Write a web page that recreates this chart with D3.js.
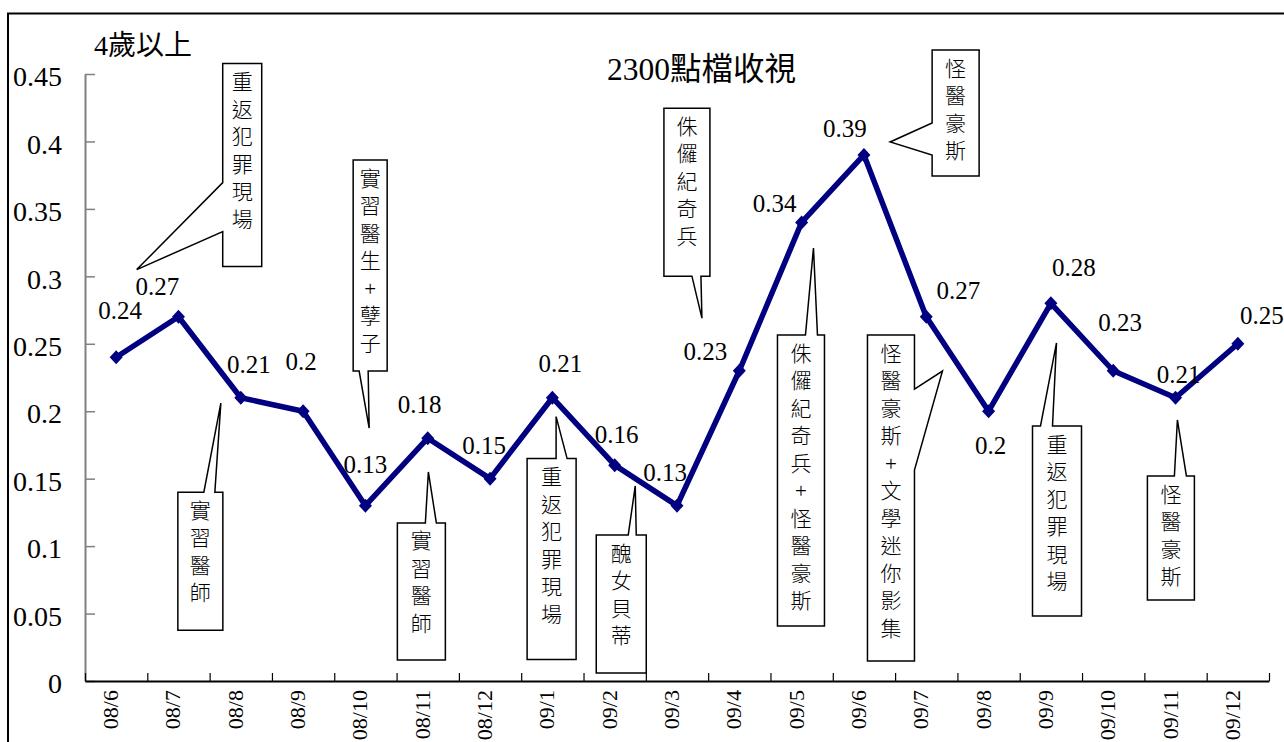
<!DOCTYPE html>
<html>
<head>
<meta charset="utf-8">
<script src="https://cdn.jsdelivr.net/npm/d3@7"></script>
<style>
  body { margin: 0; background: #fff; }
  svg { display: block; }
  .num { font-family: "Liberation Serif", "Times New Roman", serif; fill: #000; }
  .cjk { font-family: "Liberation Serif", "Noto Sans CJK TC", sans-serif; fill: #000; }
</style>
</head>
<body>
<svg id="chart" width="1284" height="742"></svg>
<script>
// data
const categories = ["08/6", "08/7", "08/8", "08/9", "08/10", "08/11", "08/12", "09/1", "09/2",
  "09/3", "09/4", "09/5", "09/6", "09/7", "09/8", "09/9", "09/10", "09/11", "09/12"];
const ratings = [0.24, 0.27, 0.21, 0.2, 0.13, 0.18, 0.15, 0.21, 0.16, 0.13,
  0.23, 0.34, 0.39, 0.27, 0.2, 0.28, 0.23, 0.21, 0.25];
const yTicks = [0, 0.05, 0.1, 0.15, 0.2, 0.25, 0.3, 0.35, 0.4, 0.45];
const calloutTexts = ["重返犯罪現場", "實習醫生+孽子", "實習醫師", "實習醫師", "重返犯罪現場",
  "醜女貝蒂", "侏儸紀奇兵", "怪醫豪斯", "侏儸紀奇兵+怪醫豪斯", "怪醫豪斯+文學迷你影集",
  "重返犯罪現場", "怪醫豪斯"];

// layout of the value labels, [dx, dy] from each point
const labelOffsets = [[4, -38], [-21, -22], [8, -25], [-2, -41], [0, -33], [-8, -25], [-6, -25],
  [8, -26], [2, -22], [-12, -25], [-34, -11], [-27, -10], [-19, -18], [32, -18], [2, 43],
  [23, -27], [7, -40], [3, -15], [24, -20]];

// callout layout: tip in (category index, value), box offset from tip, pointer base
const calloutLayout = [
  { tip: [0.83, 0.305], box: [86, -206, 39, 203], side: "left", base: [119, 168] },
  { tip: [4.56, 0.1875], box: [-16, -268, 34, 211], side: "bottom", base: [6, 15] },
  { tip: [2.18, 0.206], box: [-43, 89, 45, 138], side: "top", base: [26, 37] },
  { tip: [5.51, 0.155], box: [-31, 51, 48, 137], side: "top", base: [28, 39] },
  { tip: [7.56, 0.196], box: [-29, 42, 49, 201], side: "top", base: [29, 40] },
  { tip: [8.83, 0.1446], box: [-39, 49, 50, 138], side: "top", base: [32, 40] },
  { tip: [9.9, 0.269], box: [-38, -210, 46, 168], side: "bottom", base: [28, 37] },
  { tip: [12.92, 0.3996], box: [42, -92, 47, 126], side: "left", base: [73, 105] },
  { tip: [11.69, 0.321], box: [-36, 87, 47, 291], side: "top", base: [28, 40] },
  { tip: [13.76, 0.2298], box: [-75, -36, 47, 326], side: "right", base: [54, 135] },
  { tip: [15.59, 0.2506], box: [-24, 83, 49, 190], side: "top", base: [8, 20] },
  { tip: [17.53, 0.1935], box: [-30, 56, 47, 124], side: "top", base: [27, 39] }
];

const svg = d3.select("#chart");

const x = d3.scaleBand().domain(categories).range([85, 1269]);
const xEdge = d3.scaleLinear().domain([0, categories.length]).range([85, 1269]);
const y = d3.scaleLinear().domain([0, 0.45]).range([681, 74]);

// outer frame
svg.append("path")
  .attr("d", "M8,742 L8,13.5 L1284,13.5")
  .attr("fill", "none")
  .attr("stroke", "#000")
  .attr("stroke-width", 2);

// y axis
let yAxis = svg.append("g")
  .attr("transform", "translate(85,0)")
  .call(d3.axisLeft(y).tickValues(yTicks).tickFormat(d => String(d))
    .tickSizeInner(-10).tickSizeOuter(0).tickPadding(23));
yAxis.select(".domain").attr("stroke", "#808080").attr("stroke-width", 2);
yAxis.selectAll(".tick line").attr("stroke", "#808080").attr("stroke-width", 1.5);
yAxis.selectAll(".tick text")
  .attr("class", "num")
  .attr("dy", "0.42em")
  .style("font-size", "28px");

// x axis: boundary ticks
let xAxis = svg.append("g")
  .attr("transform", "translate(0,681)")
  .call(d3.axisBottom(xEdge).tickValues(d3.range(categories.length + 1))
    .tickFormat("").tickSizeInner(-8).tickSizeOuter(0));
xAxis.select(".domain").attr("stroke", "#000").attr("stroke-width", 2);
xAxis.selectAll(".tick line").attr("stroke", "#000").attr("stroke-width", 1.2);

// x labels, rotated
svg.append("g")
  .selectAll("text")
  .data(categories)
  .join("text")
  .attr("class", "num")
  .attr("transform", d => `translate(${x(d) + x.bandwidth() / 2 + 2},690) rotate(-90)`)
  .attr("text-anchor", "end")
  .style("font-size", "22px")
  .text(d => d);

// titles
svg.append("text")
  .attr("class", "cjk")
  .attr("x", 94)
  .attr("y", 55)
  .style("font-size", "28px")
  .text("4歲以上");

svg.append("text")
  .attr("class", "cjk")
  .attr("x", 607)
  .attr("y", 80)
  .style("font-size", "31.5px")
  .text("2300點檔收視");

// line
let line = d3.line()
  .x((d, i) => x(categories[i]) + x.bandwidth() / 2)
  .y(d => y(d));

svg.append("path")
  .datum(ratings)
  .attr("d", line)
  .attr("fill", "none")
  .attr("stroke", "#000080")
  .attr("stroke-width", 5.5)
  .attr("stroke-linejoin", "round");

svg.append("g")
  .selectAll("path")
  .data(ratings)
  .join("path")
  .attr("transform", (d, i) => `translate(${x(categories[i]) + x.bandwidth() / 2},${y(d)})`)
  .attr("d", "M0,-7 L6.5,0 L0,7 L-6.5,0 Z")
  .attr("fill", "#000080");

// value labels
svg.append("g")
  .selectAll("text")
  .data(ratings)
  .join("text")
  .attr("class", "num")
  .attr("x", (d, i) => x(categories[i]) + x.bandwidth() / 2 + labelOffsets[i][0])
  .attr("y", (d, i) => y(d) + labelOffsets[i][1])
  .attr("text-anchor", "middle")
  .style("font-size", "25px")
  .text(d => String(d));

// callouts
function calloutPath(c) {
  let tx = xEdge(c.tip[0]);
  let ty = y(c.tip[1]);
  let x0 = tx + c.box[0];
  let y0 = ty + c.box[1];
  let x1 = x0 + c.box[2];
  let y1 = y0 + c.box[3];
  let tip = `${tx},${ty}`;
  if (c.side === "top") {
    let b1 = x0 + c.base[0], b2 = x0 + c.base[1];
    return `M${x0},${y0} L${b1},${y0} L${tip} L${b2},${y0} L${x1},${y0} L${x1},${y1} L${x0},${y1} Z`;
  } else if (c.side === "bottom") {
    let b1 = x0 + c.base[0], b2 = x0 + c.base[1];
    return `M${x0},${y0} L${x1},${y0} L${x1},${y1} L${b2},${y1} L${tip} L${b1},${y1} L${x0},${y1} Z`;
  } else if (c.side === "left") {
    let b1 = y0 + c.base[0], b2 = y0 + c.base[1];
    return `M${x0},${y0} L${x1},${y0} L${x1},${y1} L${x0},${y1} L${x0},${b2} L${tip} L${x0},${b1} Z`;
  }
  let b1 = y0 + c.base[0], b2 = y0 + c.base[1];
  return `M${x0},${y0} L${x1},${y0} L${x1},${b1} L${tip} L${x1},${b2} L${x1},${y1} L${x0},${y1} Z`;
}

let callouts = svg.append("g")
  .selectAll("g")
  .data(calloutLayout)
  .join("g");

callouts.append("path")
  .attr("d", calloutPath)
  .attr("fill", "#fff")
  .attr("stroke", "#000")
  .attr("stroke-width", 1.5);

callouts.each(function (c, k) {
  let cx = xEdge(c.tip[0]) + c.box[0] + c.box[2] / 2;
  let top = y(c.tip[1]) + c.box[1];
  d3.select(this).selectAll("text")
    .data(Array.from(calloutTexts[k]))
    .join("text")
    .attr("class", "cjk")
    .attr("x", cx)
    .attr("y", (ch, j) => top + 18 + j * 27.5)
    .attr("dy", "0.36em")
    .attr("text-anchor", "middle")
    .style("font-size", "21px")
    .style("font-weight", 300)
    .text(ch => ch);
});
</script>
</body>
</html>
